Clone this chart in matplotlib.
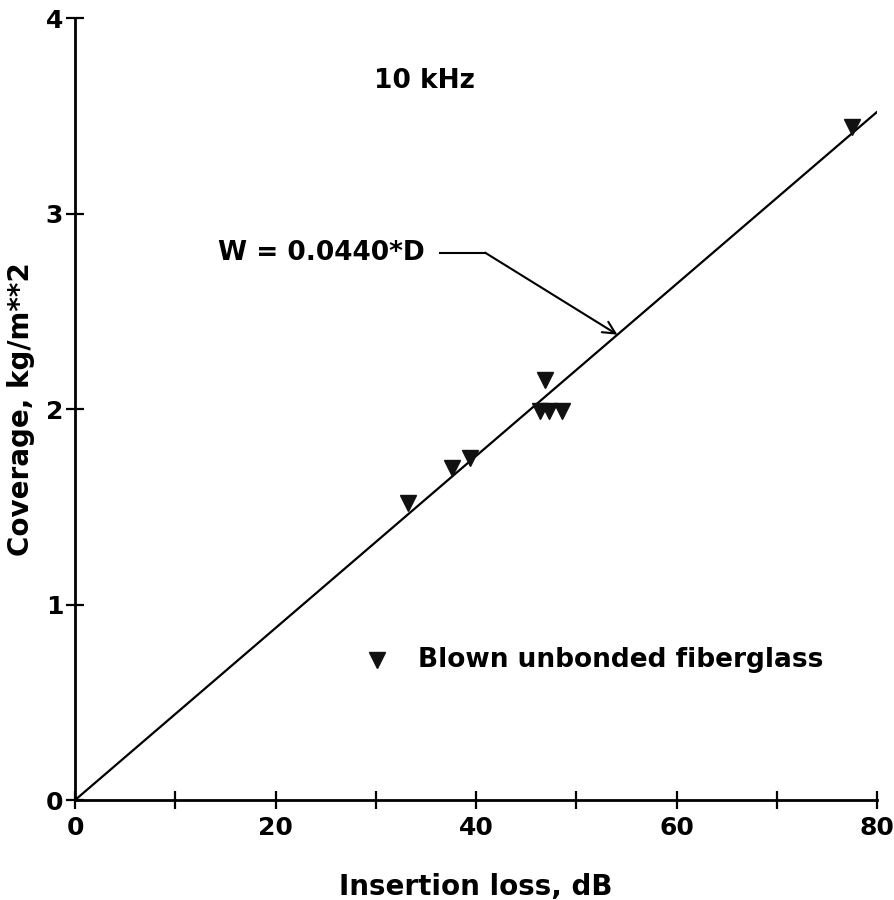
import matplotlib
matplotlib.use("Agg")
import matplotlib.pyplot as plt
import numpy as np

# Measured insertion loss (dB) and coverage (kg/m^2), blown unbonded fiberglass, 10 kHz
insertion_loss = [33.2, 37.6, 39.4, 46.4, 47.3, 48.6, 46.9, 77.5]
coverage = [1.52, 1.70, 1.75, 1.99, 1.99, 1.99, 2.15, 3.44]

# Fitted proportional relation W = k * D
slope = 0.0440
fit_range = [0, 80]

x_ticks = [0, 10, 20, 30, 40, 50, 60, 70, 80]
x_tick_labels = ["0", "", "20", "", "40", "", "60", "", "80"]
y_ticks = [0, 1, 2, 3, 4]
y_tick_labels = ["0", "1", "2", "3", "4"]

FONT = {"family": "DejaVu Sans", "weight": "bold"}

fig = plt.figure(figsize=(8.95, 9.0), dpi=100)
ax = fig.add_axes([0.0838, 0.111, 0.8962, 0.869])

xs = np.array(fit_range, dtype=float)
ax.plot(xs, slope * xs, color="black", lw=1.6, solid_capstyle="round")
ax.plot(insertion_loss, coverage, linestyle="none", marker="v",
        markersize=11, color="#111111")

ax.set_xlim(0, 80)
ax.set_ylim(0, 4)
for side in ("top", "right"):
    ax.spines[side].set_visible(False)
for side in ("left", "bottom"):
    ax.spines[side].set_linewidth(2.0)

ax.set_xticks(x_ticks)
ax.set_xticklabels(x_tick_labels, fontsize=18, **FONT)
ax.set_yticks(y_ticks)
ax.set_yticklabels(y_tick_labels, fontsize=18, **FONT)
ax.tick_params(axis="x", direction="inout", length=13, width=1.6, pad=5)
ax.tick_params(axis="y", direction="inout", length=13, width=1.6, pad=2)

ax.set_xlabel("Insertion loss, dB", fontsize=20, labelpad=24, **FONT)
ax.set_ylabel("Coverage, kg/m**2", fontsize=20, labelpad=8, **FONT)

ax.text(34.9, 3.68, "10 kHz", fontsize=19, ha="center", va="center", **FONT)

# Equation label with elbow leader to the fitted line
ax.text(34.9, 2.80, "W = 0.0440*D", fontsize=19, ha="right", va="center", **FONT)
ax.plot([36.4, 40.9], [2.80, 2.80], color="black", lw=1.5)
ax.annotate("", xy=(54.1, slope * 54.1), xytext=(40.9, 2.80),
            arrowprops=dict(arrowstyle="->", color="black", lw=1.5,
                            mutation_scale=22, shrinkA=0, shrinkB=0))

# Legend entry
ax.plot([30.1], [0.716], linestyle="none", marker="v", markersize=11,
        color="#111111", clip_on=False)
ax.text(34.2, 0.716, "Blown unbonded fiberglass", fontsize=19,
        ha="left", va="center", **FONT)

fig.savefig("out.png", dpi=100, facecolor="white")
